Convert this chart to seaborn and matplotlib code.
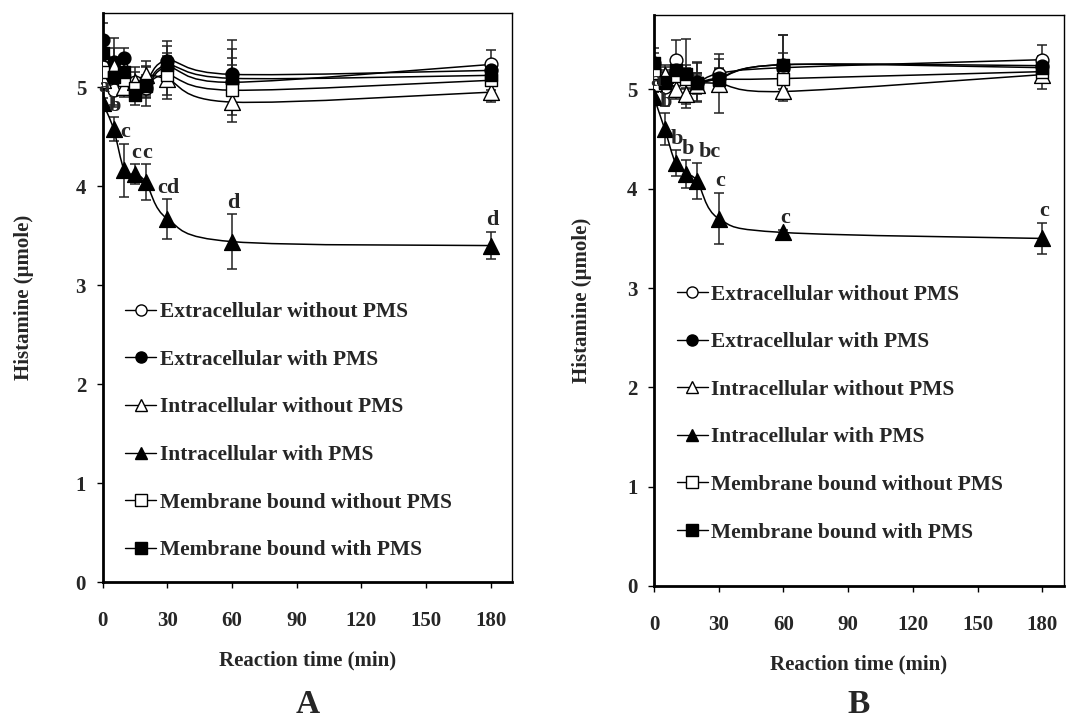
import numpy as np
import matplotlib
matplotlib.use("Agg")
import matplotlib.pyplot as plt
from matplotlib.path import Path
from matplotlib.patches import PathPatch
from matplotlib.lines import Line2D
import seaborn as sns

# ---------------- data ----------------
time_min = [0, 5, 10, 15, 20, 30, 60, 180]
series_names = ["Extracellular without PMS", "Extracellular with PMS",
                "Intracellular without PMS", "Intracellular with PMS",
                "Membrane bound without PMS", "Membrane bound with PMS"]

# Panel A
a_ext_wo = [5.20, 4.97, 5.02, 5.05, 4.99, 5.20, 5.05, 5.23]
a_ext_w = [5.48, 5.25, 5.30, 4.98, 5.05, 5.27, 5.13, 5.17]
a_int_wo = [5.07, 5.20, 5.00, 5.05, 5.12, 5.08, 4.85, 4.95]
a_int_w = [4.84, 4.58, 4.16, 4.12, 4.04, 3.67, 3.44, 3.40]
a_mem_wo = [5.15, 5.10, 5.07, 4.99, 5.02, 5.12, 4.97, 5.07]
a_mem_w = [5.35, 5.10, 5.15, 4.92, 5.01, 5.22, 5.09, 5.12]

a_err_ext_wo = [0.10, 0.15, 0.10, 0.10, 0.10, 0.15, 0.25, 0.15]
a_err_ext_w = [0.30, 0.25, 0.10, 0.10, 0.15, 0.20, 0.35, 0.10]
a_err_int_wo = [0.10, 0.10, 0.10, 0.15, 0.15, 0.20, 0.20, 0.10]
a_err_int_w = [0.05, 0.12, 0.27, 0.10, 0.18, 0.20, 0.28, 0.14]
a_err_mem_wo = [0.10, 0.10, 0.10, 0.10, 0.10, 0.20, 0.25, 0.10]
a_err_mem_w = [0.30, 0.30, 0.15, 0.10, 0.20, 0.20, 0.30, 0.10]
a_letters = ["a", "b", "c", "c", "c", "cd", "d", "d"]

# Panel B
b_ext_wo = [5.20, 5.03, 5.30, 5.12, 5.07, 5.16, 5.22, 5.30]
b_ext_w = [5.27, 5.10, 5.20, 5.15, 5.08, 5.12, 5.25, 5.24]
b_int_wo = [5.07, 5.15, 5.00, 4.95, 5.05, 5.06, 4.98, 5.15]
b_int_w = [4.92, 4.60, 4.26, 4.15, 4.08, 3.70, 3.56, 3.50]
b_mem_wo = [5.17, 5.08, 5.14, 5.11, 5.07, 5.10, 5.11, 5.18]
b_mem_w = [5.27, 5.07, 5.20, 5.16, 5.07, 5.11, 5.25, 5.22]

b_err_ext_wo = [0.10, 0.20, 0.20, 0.10, 0.10, 0.15, 0.15, 0.15]
b_err_ext_w = [0.10, 0.10, 0.10, 0.10, 0.20, 0.10, 0.30, 0.10]
b_err_int_wo = [0.10, 0.10, 0.10, 0.10, 0.10, 0.30, 0.10, 0.15]
b_err_int_w = [0.05, 0.16, 0.13, 0.14, 0.18, 0.26, 0.03, 0.16]
b_err_mem_wo = [0.10, 0.10, 0.10, 0.10, 0.10, 0.10, 0.10, 0.10]
b_err_mem_w = [0.15, 0.10, 0.10, 0.35, 0.20, 0.10, 0.30, 0.10]
b_letters = ["a", "b", "b", "b", "bc", "c", "c", "c"]

x_ticks = [0, 30, 60, 90, 120, 150, 180]
y_ticks = [0, 1, 2, 3, 4, 5]
panel_labels = ["A", "B"]

# ---------------- style ----------------
sns.set_theme(style="ticks")
plt.rcParams["font.family"] = ["Liberation Serif", "DejaVu Serif"]
plt.rcParams["font.weight"] = "bold"
plt.rcParams["axes.labelweight"] = "bold"

markers = ["o", "o", "^", "^", "s", "s"]
faces = ["white", "black", "white", "black", "white", "black"]
msizes = [85, 85, 130, 130, 75, 75]

fig = plt.figure(figsize=(10.67, 7.19), dpi=100)
axA = fig.add_axes([0.0963, 0.1905, 0.3836, 0.7914])
axB = fig.add_axes([0.6129, 0.1850, 0.3843, 0.7941])


def smooth_patch(ax, x, y):
    n = len(x)
    verts = [(x[0], y[0])]
    codes = [Path.MOVETO]
    for i in range(n - 1):
        p0 = i - 1 if i > 0 else i
        p3 = i + 2 if i + 2 < n else i + 1
        c1 = (x[i] + (x[i + 1] - x[p0]) / 6.0, y[i] + (y[i + 1] - y[p0]) / 6.0)
        c2 = (x[i + 1] - (x[p3] - x[i]) / 6.0, y[i + 1] - (y[p3] - y[i]) / 6.0)
        verts += [c1, c2, (x[i + 1], y[i + 1])]
        codes += [Path.CURVE4] * 3
    ax.add_patch(PathPatch(Path(verts, codes), facecolor="none",
                           edgecolor="black", lw=1.1, zorder=2))


def draw_panel(ax, vals, errs, letters, leg_center_y, ylabelpad):
    for v, e, m, fc, s in zip(vals, errs, markers, faces, msizes):
        ax.errorbar(time_min, v, yerr=e, fmt="none", ecolor="#222222",
                    elinewidth=1.1, capsize=3.5, capthick=1.1, zorder=1.5)
        smooth_patch(ax, time_min, v)
        sns.scatterplot(x=time_min, y=v, marker=m, s=s, color=fc,
                        edgecolor="black", linewidth=1.0, ax=ax, zorder=3,
                        legend=False)
    # significance letters on intracellular-with-PMS series
    iv, ie = vals[3], errs[3]
    for i, (t, v, e, lab) in enumerate(zip(time_min, iv, ie, letters)):
        dx = 9 if (lab == "bc" and i == 4) else 1
        ax.annotate(lab, (t, v + e), xytext=(dx, 1), textcoords="offset points",
                    ha="center", va="bottom", fontsize=16, fontweight="bold",
                    zorder=4)
    ax.set_xlim(0, 190)
    ax.set_ylim(0, 5.75)
    ax.set_xticks(x_ticks)
    ax.set_yticks(y_ticks)
    ax.tick_params(axis="both", labelsize=15, width=1, length=4,
                   color="black", direction="out")
    ax.tick_params(axis="x", pad=17)
    ax.tick_params(axis="y", pad=8)
    for lab in ax.get_xticklabels() + ax.get_yticklabels():
        lab.set_fontweight("bold")
    ax.set_xlabel("Reaction time (min)", fontsize=15, fontweight="bold",
                  labelpad=14)
    ax.set_ylabel("Histamine (\u03bcmole)", fontsize=15, fontweight="bold",
                  labelpad=ylabelpad)
    for side in ["left", "bottom"]:
        ax.spines[side].set_linewidth(2.0)
    for side in ["top", "right"]:
        ax.spines[side].set_linewidth(1.0)
    for sp in ax.spines.values():
        sp.set_color("black")
    handles = [Line2D([], [], color="black", lw=1.0, marker=m,
                      markerfacecolor=fc, markeredgecolor="black",
                      markersize=9 if m == "^" else 8)
               for m, fc in zip(markers, faces)]
    ax.legend(handles, series_names, loc="center left",
              bbox_to_anchor=(0.055, leg_center_y), frameon=False,
              prop={"family": "Liberation Serif", "weight": "bold", "size": 15.5},
              handlelength=1.45, handletextpad=0.15, labelspacing=1.28,
              borderpad=0, borderaxespad=0)


draw_panel(axA,
           [a_ext_wo, a_ext_w, a_int_wo, a_int_w, a_mem_wo, a_mem_w],
           [a_err_ext_wo, a_err_ext_w, a_err_int_wo, a_err_int_w,
            a_err_mem_wo, a_err_mem_w],
           a_letters, 0.265, 30)
draw_panel(axB,
           [b_ext_wo, b_ext_w, b_int_wo, b_int_w, b_mem_wo, b_mem_w],
           [b_err_ext_wo, b_err_ext_w, b_err_int_wo, b_err_int_w,
            b_err_mem_wo, b_err_mem_w],
           b_letters, 0.302, 25)

fig.text(0.2881, 0.008, panel_labels[0], ha="center", va="baseline",
         fontsize=24, fontweight="bold")
fig.text(0.8050, 0.008, panel_labels[1], ha="center", va="baseline",
         fontsize=24, fontweight="bold")

fig.savefig("out.png", dpi=100)
